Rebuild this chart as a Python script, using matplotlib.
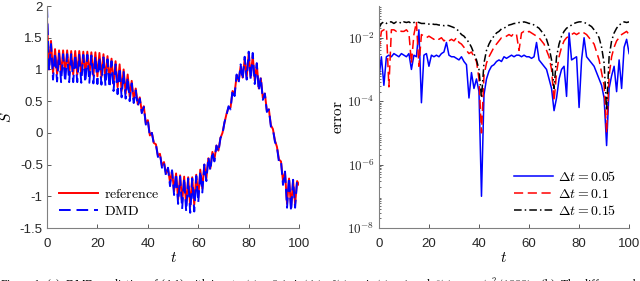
import numpy as np
import matplotlib
matplotlib.use('Agg')
import matplotlib.pyplot as plt

plt.rcParams['font.family'] = ['Liberation Sans', 'DejaVu Sans']
plt.rcParams['mathtext.fontset'] = 'cm'

# --- left panel: S(t), alternating peak / trough values (half period 0.8) ---
ref_peaks = [1.80, 1.45, 1.32, 1.30, 1.30, 1.30, 1.29, 1.29, 1.29, 1.28, 1.28, 1.27, 1.27,
             1.26, 1.24, 1.21, 1.17, 1.13, 1.08, 1.00, 0.92, 0.82, 0.70, 0.56, 0.42, 0.20,
             0.00, -0.18, -0.33, -0.46, -0.56, -0.60, -0.64, -0.67, -0.69, -0.70, -0.70,
             -0.66, -0.58, -0.50, -0.40, -0.30, -0.20, -0.08, 0.16, 0.40, 0.66, 0.90, 1.05,
             1.16, 1.25, 1.22, 1.08, 0.86, 0.62, 0.37, 0.06, -0.22, -0.45, -0.62, -0.72,
             -0.75, -0.76]
ref_troughs = [1.00, 0.94, 0.93, 0.93, 0.92, 0.92, 0.92, 0.92, 0.91, 0.91, 0.90, 0.90, 0.89,
               0.88, 0.85, 0.82, 0.77, 0.72, 0.66, 0.62, 0.57, 0.52, 0.45, 0.33, 0.15, -0.04,
               -0.16, -0.36, -0.52, -0.64, -0.78, -0.92, -1.05, -1.10, -1.14, -1.16, -1.13,
               -1.02, -0.88, -0.72, -0.56, -0.42, -0.28, 0.00, 0.30, 0.40, 0.62, 0.82, 0.87,
               0.88, 0.88, 0.82, 0.70, 0.55, 0.35, 0.12, -0.12, -0.42, -0.76, -1.12, -1.18,
               -1.12, -0.82]
dmd_peaks = [2.00, 1.40, 1.26, 1.25, 1.24, 1.24, 1.24, 1.24, 1.23, 1.23, 1.23, 1.22, 1.21,
             1.20, 1.19, 1.16, 1.13, 1.08, 1.03, 0.96, 0.88, 0.78, 0.67, 0.54, 0.41, 0.20,
             0.00, -0.18, -0.33, -0.47, -0.55, -0.59, -0.64, -0.69, -0.71, -0.72, -0.72,
             -0.68, -0.60, -0.50, -0.38, -0.29, -0.20, -0.08, 0.17, 0.42, 0.68, 0.92, 1.08,
             1.20, 1.28, 1.26, 1.10, 0.88, 0.62, 0.37, 0.06, -0.22, -0.44, -0.61, -0.70,
             -0.74, -0.74]
dmd_troughs = [0.98, 0.84, 0.81, 0.80, 0.80, 0.80, 0.80, 0.80, 0.79, 0.79, 0.79, 0.78, 0.77,
               0.76, 0.74, 0.71, 0.66, 0.61, 0.56, 0.54, 0.50, 0.47, 0.42, 0.31, 0.13, -0.06,
               -0.18, -0.38, -0.55, -0.68, -0.84, -0.98, -1.12, -1.20, -1.24, -1.26, -1.24,
               -1.10, -0.94, -0.76, -0.60, -0.45, -0.30, -0.02, 0.28, 0.37, 0.58, 0.78, 0.84,
               0.84, 0.83, 0.77, 0.66, 0.52, 0.33, 0.10, -0.14, -0.46, -0.82, -1.18, -1.24,
               -1.18, -0.76]

# --- right panel: log10 of the error, one value per unit of t ---
log_err_005 = [-3.3, -2.6, -3.5, -2.6, -2.55, -2.6, -2.5, -2.55, -2.6, -2.5, -2.55, -2.6, -2.5,
               -3.0, -2.55, -2.6, -1.75, -4.05, -2.55, -2.5, -2.9, -2.55, -2.6, -2.55, -2.6,
               -2.5, -2.45, -2.15, -2.55, -2.6, -2.6, -2.65, -2.7, -2.6, -2.75, -2.85, -3.9,
               -3.1, -3.6, -3.3, -3.7, -7.0, -3.8, -3.3, -3.05, -2.9, -2.85, -2.75, -2.7,
               -2.75, -2.6, -2.65, -2.6, -2.55, -2.6, -2.55, -2.55, -2.6, -2.55, -2.6, -2.6,
               -2.65, -2.6, -2.15, -2.7, -2.8, -2.9, -3.0, -3.3, -3.6, -4.3, -3.9, -3.3,
               -3.0, -2.9, -3.85, -1.85, -2.7, -2.65, -2.6, -4.2, -2.7, -2.0, -2.6, -2.7,
               -2.8, -2.9, -3.1, -3.3, -3.5, -3.9, -5.4, -3.6, -3.2, -2.9, -3.7, -2.7, -3.6,
               -2.3, -2.05, -2.5]
log_err_01 = [-2.4, -1.8, -1.75, -1.7, -3.55, -1.75, -1.75, -1.8, -1.75, -1.8, -1.8, -1.75,
              -1.85, -2.8, -1.9, -1.5, -2.9, -1.9, -1.95, -2.0, -1.95, -2.0, -2.05, -2.0,
              -2.05, -2.0, -2.1, -2.05, -2.1, -2.05, -2.1, -2.0, -2.15, -2.2, -2.3, -2.4,
              -2.5, -2.45, -2.6, -2.75, -3.3, -5.0, -3.2, -2.8, -2.6, -2.45, -2.3, -2.2,
              -2.1, -2.0, -2.0, -1.95, -1.9, -1.95, -1.85, -1.9, -2.4, -1.85, -1.8, -1.85,
              -1.8, -1.85, -1.9, -1.95, -2.0, -2.1, -2.2, -2.4, -2.6, -3.0, -4.0, -3.1,
              -2.6, -2.3, -2.1, -2.0, -1.95, -1.9, -1.85, -1.9, -1.85, -1.8, -1.85, -1.9,
              -2.0, -2.1, -2.2, -2.45, -2.7, -3.1, -3.5, -5.0, -3.2, -2.6, -2.3, -2.1, -2.0,
              -1.9, -1.85, -1.8, -1.9]
log_err_015 = [-1.7, -1.55, -1.5, -1.55, -1.5, -1.5, -1.55, -1.5, -1.5, -1.55, -1.5, -1.52,
               -1.5, -1.55, -1.52, -1.5, -1.52, -1.55, -1.55, -1.55, -1.57, -1.55, -1.58,
               -1.58, -1.6, -1.6, -1.62, -1.6, -1.62, -1.65, -1.68, -1.72, -1.8, -1.9, -1.95,
               -2.05, -2.15, -2.3, -2.5, -2.7, -3.0, -3.9, -2.8, -2.4, -2.2, -2.05, -1.95,
               -1.85, -1.8, -1.72, -1.7, -1.65, -1.6, -1.58, -1.55, -1.55, -1.52, -1.52,
               -1.5, -1.52, -1.55, -1.55, -1.6, -1.65, -1.7, -1.8, -1.9, -2.05, -2.3, -2.7,
               -3.6, -2.6, -2.2, -1.95, -1.8, -1.7, -1.65, -1.6, -1.55, -1.52, -1.5, -1.5,
               -1.52, -1.55, -1.6, -1.65, -1.75, -1.85, -2.0, -2.3, -2.8, -4.3, -2.6, -2.1,
               -1.85, -1.7, -1.6, -1.55, -1.5, -1.52, -1.5]


def interleave(peaks, troughs):
    out = []
    for p, q in zip(peaks, troughs):
        out += [p, q]
    return np.array(out)


S_ref = interleave(ref_peaks, ref_troughs)
S_dmd = interleave(dmd_peaks, dmd_troughs)
t_s = np.linspace(0, 100, len(S_ref))
t_e = np.linspace(0, 100, len(log_err_005))

fig = plt.figure(figsize=(6.4, 2.81), dpi=100)
ax1 = fig.add_axes([0.0734, 0.1886, 0.394, 0.790])
ax2 = fig.add_axes([0.592, 0.1886, 0.391, 0.790])

ax1.plot(t_s, S_ref, color='red', lw=1.4, label=r'$\mathrm{reference}$')
ax1.plot(t_s, S_dmd, color='blue', lw=1.4, ls=(0, (6, 3)), label=r'$\mathrm{DMD}$')
ax1.set_xlim(0, 100)
ax1.set_ylim(-1.5, 2)
ax1.set_xticks([0, 20, 40, 60, 80, 100])
ax1.set_yticks([-1.5, -1, -0.5, 0, 0.5, 1, 1.5, 2])
ax1.set_yticklabels(['-1.5', '-1', '-0.5', '0', '0.5', '1', '1.5', '2'])
ax1.set_xlabel(r'$t$', fontsize=11, labelpad=1)
ax1.set_ylabel(r'$S$', fontsize=11, labelpad=4)
ax1.legend(loc='lower left', bbox_to_anchor=(0.0, -0.01), frameon=False, fontsize=10,
           handlelength=2.8, handletextpad=0.4, labelspacing=0.2)

ax2.semilogy(t_e, 10.0 ** np.array(log_err_005), color='blue', lw=1.1,
             label=r'$\Delta t = 0.05$')
ax2.semilogy(t_e, 10.0 ** np.array(log_err_01), color='red', lw=1.1, ls=(0, (6, 3)),
             label=r'$\Delta t = 0.1$')
ax2.semilogy(t_e, 10.0 ** np.array(log_err_015), color='black', lw=1.1,
             ls=(0, (5, 2, 1, 2)), label=r'$\Delta t = 0.15$')
ax2.set_xlim(0, 100)
ax2.set_ylim(1e-8, 1e-1)
ax2.set_xticks([0, 20, 40, 60, 80, 100])
ax2.set_yticks([1e-8, 1e-6, 1e-4, 1e-2])
ax2.set_yticklabels([r'$\mathsf{10^{-8}}$', r'$\mathsf{10^{-6}}$',
                     r'$\mathsf{10^{-4}}$', r'$\mathsf{10^{-2}}$'])
ax2.set_xlabel(r'$t$', fontsize=11, labelpad=1)
ax2.set_ylabel(r'$\mathrm{error}$', fontsize=11, labelpad=2)
ax2.legend(loc='lower right', bbox_to_anchor=(1.0, -0.01), frameon=False, fontsize=10,
           handlelength=2.8, handletextpad=0.4, labelspacing=0.2)

for ax in (ax1, ax2):
    for side in ('top', 'right'):
        ax.spines[side].set_visible(False)
    for side in ('left', 'bottom'):
        ax.spines[side].set_color('#808080')
        ax.spines[side].set_linewidth(0.8)
    ax.tick_params(direction='in', length=3, width=0.6, color='#404040',
                   labelsize=9.5, labelcolor='#262626', pad=3)
    ax.tick_params(axis='x', pad=7)
    ax.tick_params(which='minor', direction='in', length=1.5, width=0.4)

# caption of the source figure, cut off by the bottom edge as in the original
fig.text(0.0, 0.017,
         r'Figure 1: (a): DMD prediction of (4.1) with input $u(t) = 0.1\,\sin(4t)$,'
         r' $f(t) = \sin(t) + 1$ and $\beta(t) = \cos(t^2/1000)$.'
         r'  (b): The difference between',
         fontsize=8.6, va='top', ha='left', family='Liberation Serif')

fig.savefig('out.png', dpi=100)
